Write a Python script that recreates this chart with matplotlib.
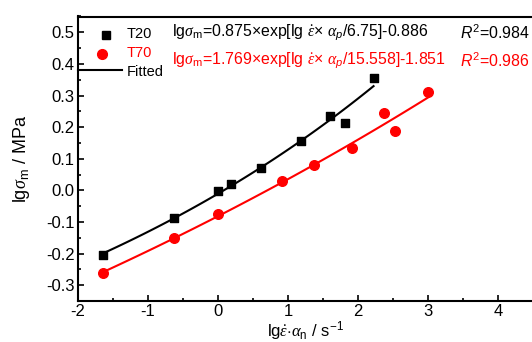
import numpy as np
import matplotlib
matplotlib.use("Agg")
import matplotlib.pyplot as plt
from matplotlib.ticker import MultipleLocator

plt.rcParams['font.family'] = ['Liberation Sans', 'DejaVu Sans']
plt.rcParams['mathtext.fontset'] = 'custom'
plt.rcParams['mathtext.rm'] = 'Liberation Sans'
plt.rcParams['mathtext.it'] = 'Liberation Sans:italic'
plt.rcParams['mathtext.cal'] = 'Liberation Serif:italic'
plt.rcParams['mathtext.sf'] = 'Liberation Sans'
plt.rcParams['axes.unicode_minus'] = False

# ============================================================
# DATA
# ============================================================
t20_x = [-1.63, -0.63, 0.0, 0.19, 0.61, 1.19, 1.60, 1.82, 2.22]
t20_y = [-0.203, -0.089, -0.002, 0.020, 0.071, 0.155, 0.235, 0.214, 0.357]

t70_x = [-1.63, -0.63, 0.0, 0.91, 1.37, 1.91, 2.37, 2.53, 3.0]
t70_y = [-0.262, -0.150, -0.076, 0.030, 0.081, 0.134, 0.245, 0.187, 0.311]

# fitted parameters: y = a*exp(x/b) + c
t20_fit = [0.875, 6.75, -0.886]
t70_fit = [1.769, 15.558, -1.851]

# ============================================================
# FIGURE
# ============================================================
fig = plt.figure(figsize=(5.32, 3.42), dpi=100)
ax = fig.add_axes([77.5 / 532, 41 / 342, 456 / 532, 284.5 / 342])

xf20 = np.linspace(min(t20_x), max(t20_x), 100)
xf70 = np.linspace(min(t70_x), max(t70_x), 100)
ax.plot(xf20, t20_fit[0] * np.exp(xf20 / t20_fit[1]) + t20_fit[2],
        color='black', lw=1.5, zorder=2)
ax.plot(xf70, t70_fit[0] * np.exp(xf70 / t70_fit[1]) + t70_fit[2],
        color='red', lw=1.5, zorder=2)

ax.scatter(t20_x, t20_y, marker='s', s=40, color='black', zorder=3)
ax.scatter(t70_x, t70_y, marker='o', s=48, color='red', zorder=3)

# ============================================================
# AXES
# ============================================================
ax.set_xlim(-2, 4.5)
ax.set_ylim(-0.35, 0.55)
ax.xaxis.set_major_locator(MultipleLocator(1))
ax.xaxis.set_minor_locator(MultipleLocator(0.5))
ax.yaxis.set_minor_locator(MultipleLocator(0.05))
yt = np.round(np.arange(-0.3, 0.51, 0.1), 1)
ax.set_yticks(yt)
ax.set_yticklabels([f"{v:.1f}" for v in yt])
ax.tick_params(which='both', direction='in', labelsize=12, width=1.2)
ax.tick_params(which='major', length=4, pad=2)
ax.tick_params(which='minor', length=2)
for s in ax.spines.values():
    s.set_linewidth(1.5)

ax.set_xlabel(r"lg$\mathcal{\dot{\varepsilon}}$$\cdot$$\mathcal{\alpha}_{\rm n}$ / s$^{-1}$",
              fontsize=12, labelpad=0)
ax.set_ylabel(r"lg$\mathcal{\sigma}_{\rm m}$ / MPa", fontsize=13, labelpad=10)

# ============================================================
# LEGEND
# ============================================================
ax.plot([-1.6], [0.49], marker='s', ms=6, color='black', ls='none')
ax.text(-1.3, 0.495, "T20", fontsize=10.5, va='center')
ax.plot([-1.65], [0.43], marker='o', ms=7, color='red', ls='none')
ax.text(-1.3, 0.435, "T70", fontsize=10.5, va='center', color='red')
ax.plot([-2, -1.37], [0.38, 0.38], color='black', lw=1.5, clip_on=False)
ax.text(-1.3, 0.375, "Fitted", fontsize=10.5, va='center')

# ============================================================
# EQUATIONS
# ============================================================
eq_fs = 11.4
ax.text(-0.66, 0.50,
        r"lg$\mathcal{\sigma}_{\rm m}$=0.875×exp[lg $\mathcal{\dot{\varepsilon}}$× $\mathcal{\alpha}_p$/6.75]-0.886",
        fontsize=eq_fs, va='center', color='black')
ax.text(4.45, 0.50, r"$R^2$=0.984", fontsize=eq_fs, va='center', ha='right',
        color='black')
ax.text(-0.66, 0.41,
        r"lg$\mathcal{\sigma}_{\rm m}$=1.769×exp[lg $\mathcal{\dot{\varepsilon}}$× $\mathcal{\alpha}_p$/15.558]-1.851",
        fontsize=eq_fs, va='center', color='red')
ax.text(4.45, 0.41, r"$R^2$=0.986", fontsize=eq_fs, va='center', ha='right',
        color='red')

fig.savefig("out.png", dpi=100)
